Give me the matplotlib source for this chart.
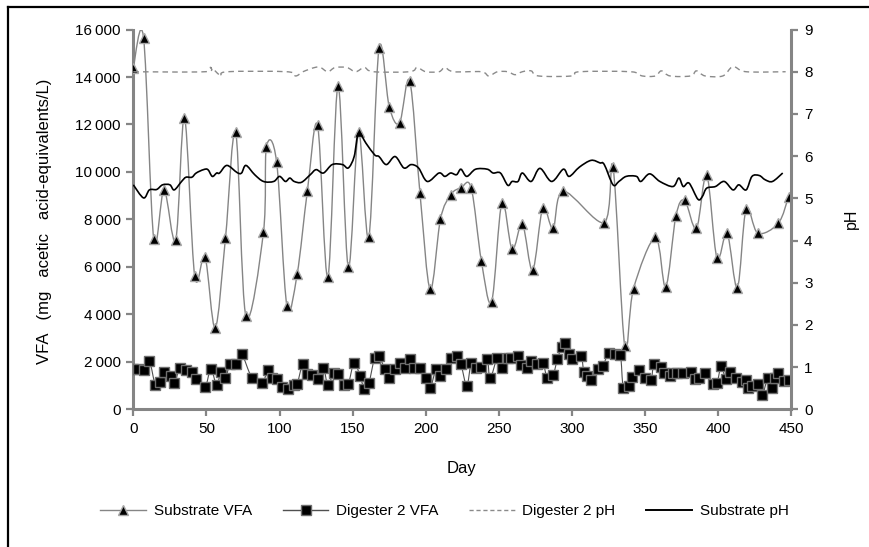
import numpy as np
import matplotlib
matplotlib.use("Agg")
import matplotlib.pyplot as plt
from matplotlib.path import Path
from matplotlib.patches import PathPatch
from matplotlib.lines import Line2D
from matplotlib.ticker import FuncFormatter

plt.rcParams['font.family'] = ['Liberation Sans', 'DejaVu Sans']

# ---- data -------------------------------------------------------------------
sub_vfa_day = [0, 7, 14, 21, 29, 35, 42, 49, 56, 63, 70, 77, 89, 91, 98, 105,
               112, 119, 126, 133, 140, 147, 154, 161, 168, 175, 182, 189, 196,
               203, 210, 217, 224, 231, 238, 245, 252, 259, 266, 273, 280, 287,
               294, 322, 328, 336, 342, 357, 364, 371, 377, 385, 392, 399, 406,
               413, 419, 427, 441, 448]
sub_vfa = [14400, 15650, 7170, 9240, 7140, 12290, 5610, 6430, 3430, 7210,
           11680, 3920, 7480, 11050, 10410, 4370, 5690, 9190, 11960, 5570,
           13630, 5990, 11680, 7240, 15210, 12740, 12060, 13830, 9100, 5050,
           8010, 9040, 9330, 9330, 6240, 4540, 8700, 6740, 7800, 5860, 8480,
           7620, 9190, 7870, 10200, 2680, 5090, 7240, 5160, 8150, 8800, 7620,
           9880, 6390, 7410, 5120, 8440, 7420, 7840, 8960]

dig_vfa_day = [0, 3, 7, 11, 15, 18, 21, 26, 28, 32, 36, 40, 43, 49, 53, 57,
               60, 63, 66, 70, 74, 81, 88, 92, 95, 98, 102, 106, 110, 112, 116,
               119, 122, 126, 130, 133, 137, 140, 144, 147, 151, 155, 158, 161,
               165, 168, 172, 175, 179, 182, 186, 189, 192, 196, 200, 203, 207,
               210, 214, 217, 221, 224, 228, 231, 234, 238, 242, 244, 249, 252,
               256, 258, 263, 265, 269, 272, 276, 280, 283, 287, 290, 293, 295,
               298, 300, 306, 308, 310, 313, 318, 321, 325, 329, 333, 335, 339,
               341, 346, 350, 354, 356, 361, 363, 367, 369, 372, 376, 381, 384,
               387, 391, 396, 399, 402, 405, 408, 412, 416, 419, 420, 423, 427,
               430, 434, 437, 439, 441, 445, 448]
dig_vfa = [1710, 1680, 1650, 2020, 1030, 1130, 1570, 1400, 1090, 1760, 1650,
           1570, 1270, 940, 1690, 1030, 1590, 1310, 1900, 1930, 2330, 1340,
           1090, 1650, 1340, 1270, 960, 850, 1030, 1060, 1930, 1480, 1450,
           1280, 1740, 1030, 1540, 1480, 1030, 1060, 1970, 1400, 860, 1090,
           2160, 2240, 1680, 1310, 1680, 1960, 1740, 2100, 1760, 1760, 1310,
           910, 1680, 1400, 1710, 2160, 2240, 1900, 1000, 1960, 1740, 1790,
           2130, 1310, 2180, 1740, 2160, 2180, 2240, 1870, 1760, 2040, 1930,
           1960, 1340, 1450, 2130, 2640, 2810, 2350, 2130, 2240, 1590, 1400,
           1250, 1680, 1820, 2380, 2350, 2300, 910, 1000, 1370, 1650, 1310,
           1250, 1900, 1790, 1510, 1400, 1540, 1540, 1540, 1570, 1280, 1310,
           1540, 1060, 1090, 1820, 1280, 1570, 1340, 1140, 1230, 910, 1000,
           1060, 600, 1340, 890, 1310, 1510, 1200, 1250]

dig_ph_day = [0, 49, 53, 60, 64, 105, 111, 116, 124, 128, 133, 138, 146, 152,
              158, 164, 189, 194, 200, 209, 213, 219, 238, 243, 249, 256, 261,
              266, 272, 277, 300, 305, 340, 348, 357, 361, 367, 381, 385, 391,
              403, 410, 419, 446]
dig_ph = [8.0, 8.0, 8.1, 7.9, 8.0, 8.0, 7.9, 8.0, 8.1, 8.1, 8.0, 8.1, 8.1,
          8.0, 8.1, 8.0, 8.0, 8.1, 8.0, 8.0, 8.1, 8.0, 8.0, 7.9, 8.0, 8.0,
          7.93, 8.0, 8.02, 7.9, 7.9, 8.0, 8.0, 7.9, 7.9, 8.02, 7.9, 7.9, 8.02,
          7.9, 7.9, 8.12, 8.0, 8.0]

sub_ph_day = [0, 7, 11, 16, 20, 25, 28, 33, 36, 40, 43, 48, 51, 54, 57, 59,
              64, 71, 74, 77, 83, 89, 96, 100, 104, 107, 110, 115, 121, 125,
              130, 136, 143, 147, 151, 154, 159, 165, 168, 173, 179, 185, 190,
              195, 201, 209, 213, 217, 221, 224, 228, 234, 242, 246, 251, 256,
              259, 263, 266, 272, 278, 286, 294, 298, 305, 313, 319, 322, 328,
              332, 337, 344, 347, 353, 360, 369, 373, 376, 380, 386, 389, 392,
              398, 404, 410, 414, 419, 423, 428, 432, 437, 444]
sub_ph = [5.32, 5.01, 5.20, 5.21, 5.32, 5.32, 5.20, 5.40, 5.50, 5.50, 5.60,
          5.68, 5.68, 5.52, 5.60, 5.60, 5.78, 5.61, 5.60, 5.78, 5.56, 5.40,
          5.40, 5.52, 5.40, 5.48, 5.40, 5.38, 5.56, 5.68, 5.60, 5.80, 5.80,
          5.72, 5.99, 6.55, 6.31, 6.03, 5.99, 5.80, 5.99, 5.72, 5.80, 5.72,
          5.40, 5.60, 5.52, 5.60, 5.56, 5.69, 5.52, 5.69, 5.69, 5.60, 5.60,
          5.31, 5.40, 5.40, 5.60, 5.40, 5.71, 5.40, 5.69, 5.52, 5.74, 5.90,
          5.84, 5.80, 5.32, 5.40, 5.52, 5.52, 5.40, 5.58, 5.40, 5.28, 5.48,
          5.28, 5.36, 4.98, 5.04, 5.24, 5.28, 5.40, 5.20, 5.32, 5.20, 5.52,
          5.54, 5.44, 5.40, 5.60]

x_ticks = [0, 50, 100, 150, 200, 250, 300, 350, 400, 450]
vfa_ticks = [0, 2000, 4000, 6000, 8000, 10000, 12000, 14000, 16000]
ph_ticks = [0, 1, 2, 3, 4, 5, 6, 7, 8, 9]

series_names = ['Substrate VFA', 'Digester 2 VFA', 'Digester 2 pH', 'Substrate pH']

GRAY = '#858585'


def smooth_path(x, y):
    """Catmull-Rom style cubic Bezier through the points (spreadsheet 'smoothed line')."""
    p = np.column_stack([np.asarray(x, float), np.asarray(y, float)])
    n = len(p)
    verts = [p[0]]
    codes = [Path.MOVETO]
    for i in range(n - 1):
        p0 = p[i - 1] if i > 0 else p[i]
        p3 = p[i + 2] if i + 2 < n else p[i + 1]
        c1 = p[i] + (p[i + 1] - p0) / 6.0
        c2 = p[i + 1] - (p3 - p[i]) / 6.0
        verts += [c1, c2, p[i + 1]]
        codes += [Path.CURVE4] * 3
    return Path(verts, codes)


def add_smooth_line(ax, x, y, **kw):
    patch = PathPatch(smooth_path(x, y), facecolor='none', **kw)
    ax.add_patch(patch)
    return patch


fig = plt.figure(figsize=(8.69, 5.47), dpi=100)
ax = fig.add_axes([0.1534, 0.2517, 0.7574, 0.6943])
ax2 = ax.twinx()

# VFA series (left axis)
add_smooth_line(ax, sub_vfa_day, sub_vfa, edgecolor=GRAY, linewidth=1.0, zorder=2)
ax.plot(sub_vfa_day, sub_vfa, linestyle='none', marker='^', markersize=6.5,
        markerfacecolor='black', markeredgecolor='#a8a8a8', markeredgewidth=1.0, zorder=3)

add_smooth_line(ax, dig_vfa_day, dig_vfa, edgecolor='#505050', linewidth=0.8, zorder=2)
ax.plot(dig_vfa_day, dig_vfa, linestyle='none', marker='s', markersize=7,
        markerfacecolor='black', markeredgecolor='#6e6e6e', markeredgewidth=1.0, zorder=3)

# pH series (right axis)
add_smooth_line(ax2, dig_ph_day, dig_ph, edgecolor='#8a8a8a', linewidth=1.0,
                linestyle=(0, (4, 3)), zorder=2)
add_smooth_line(ax2, sub_ph_day, sub_ph, edgecolor='black', linewidth=1.2, zorder=2)

ax.set_xlim(0, 450)
ax.set_ylim(0, 16000)
ax2.set_ylim(0, 9)
ax.set_xticks(x_ticks)
ax.set_yticks(vfa_ticks)
ax2.set_yticks(ph_ticks)
ax.yaxis.set_major_formatter(FuncFormatter(
    lambda v, pos: f"{int(v):,}".replace(',', '\u2009')))

for a in (ax, ax2):
    a.spines['top'].set_visible(False)
    for side in ('left', 'right', 'bottom'):
        a.spines[side].set_color(GRAY)
        a.spines[side].set_linewidth(2.2)
    a.tick_params(direction='out', length=5, width=1.6, color=GRAY,
                  labelsize=11, pad=4)
    a.set_facecolor('none')
ax.spines['right'].set_visible(False)
ax2.spines['left'].set_visible(False)
ax2.spines['bottom'].set_visible(False)

# axis titles
fig.text(45 / 869, 1 - 221 / 547, 'VFA   (mg   acetic   acid-equivalents/L)',
         rotation=90, ha='center', va='center', fontsize=12)
fig.text(851 / 869, 1 - 219 / 547, 'pH', rotation=90, ha='center', va='center',
         fontsize=11.5)
fig.text(462 / 869, 1 - 469 / 547, 'Day', ha='center', va='center', fontsize=12)

# legend with proxy handles
handles = [
    Line2D([], [], color=GRAY, linewidth=1.0, marker='^', markersize=6.5,
           markerfacecolor='black', markeredgecolor='#a8a8a8'),
    Line2D([], [], color='#505050', linewidth=1.0, marker='s', markersize=7,
           markerfacecolor='black', markeredgecolor='#6e6e6e'),
    Line2D([], [], color='#8a8a8a', linewidth=1.0, linestyle=(0, (3, 2))),
    Line2D([], [], color='black', linewidth=1.4),
]
fig.legend(handles, series_names, loc='center', bbox_to_anchor=(0.5115, 1 - 511 / 547),
           ncol=4, frameon=False, fontsize=11, handlelength=3.0, handletextpad=0.5,
           columnspacing=2.0, numpoints=1)

# outer frame (left and top edges)
fig.add_artist(Line2D([8 / 869, 8 / 869], [0, 1 - 7 / 547], transform=fig.transFigure,
                      color='black', linewidth=1.6))
fig.add_artist(Line2D([8 / 869, 1], [1 - 7 / 547, 1 - 7 / 547], transform=fig.transFigure,
                      color='black', linewidth=1.6))

fig.savefig('out.png', dpi=100)
